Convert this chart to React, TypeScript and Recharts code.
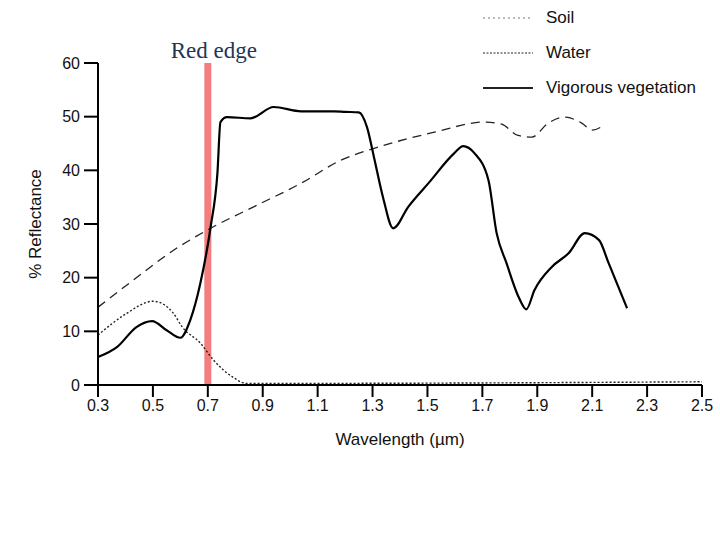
import React from 'react';
import { LineChart, Line, XAxis, YAxis, ReferenceLine, Legend } from 'recharts';

// axis ticks
const wlTicks = [0.3, 0.5, 0.7, 0.9, 1.1, 1.3, 1.5, 1.7, 1.9, 2.1, 2.3, 2.5];
const reflTicks = [0, 10, 20, 30, 40, 50, 60];

// soil (dashed)
const soilWl = [0.3, 0.43, 0.575, 0.71, 0.867, 1.04, 1.185, 1.306, 1.525, 1.708, 1.77, 1.83, 1.88, 1.94, 2.0, 2.062, 2.1, 2.143];
const soilRefl = [14.5, 19.6, 25.1, 29.2, 33.2, 37.6, 41.9, 44.1, 47.1, 49, 48.6, 46.5, 46.2, 48.8, 49.9, 48.8, 47.5, 48.4];

// water (dotted)
const waterWl = [0.3, 0.4, 0.5, 0.54, 0.574, 0.607, 0.673, 0.72, 0.79, 0.84, 1.0, 2.5];
const waterRefl = [9.3, 13.2, 15.6, 15.0, 13.4, 10.8, 7.8, 4.7, 1.5, 0.3, 0.3, 0.6];

// vigorous vegetation (solid)
const vegWl = [0.3, 0.37, 0.44, 0.497, 0.55, 0.6, 0.636, 0.673, 0.71, 0.735, 0.746, 0.77, 0.856, 0.94, 1.04, 1.16, 1.2, 1.25, 1.28, 1.305, 1.338, 1.375, 1.43, 1.507, 1.598, 1.63, 1.671, 1.722, 1.752, 1.788, 1.832, 1.86, 1.89, 1.953, 2.015, 2.073, 2.125, 2.16, 2.227];
const vegRefl = [5.2, 7.1, 10.8, 11.9, 10.2, 8.8, 12.1, 19, 29.4, 39.5, 49, 49.9, 49.7, 51.8, 51, 51, 50.9, 50.8, 48, 42.5, 35, 29.2, 33.2, 37.8, 43.2, 44.5, 43.2, 38.2, 28.3, 22.7, 16.4, 14.1, 17.7, 22, 24.6, 28.3, 27, 22.7, 14.3];

const redEdge = 0.7;

const seriesOrder = ['Soil', 'Water', 'Vigorous vegetation'];

const zip = (xs: number[], ys: number[]) => xs.map((x, i) => ({ wl: x, refl: ys[i] }));

const soilData = zip(soilWl, soilRefl);
const waterData = zip(waterWl, waterRefl);
const vegData = zip(vegWl, vegRefl);

const FONT = '"Liberation Sans", Arial, sans-serif';

const dashFor: Record<string, string | undefined> = {
  Soil: '2 3',
  Water: '2 1.5',
  'Vigorous vegetation': undefined,
};

const LegendBox = (props: any) => {
  const items = [...(props.payload || [])].sort(
    (a: any, b: any) => seriesOrder.indexOf(a.value) - seriesOrder.indexOf(b.value)
  );
  return (
    <div style={{ fontFamily: FONT, fontSize: 17, color: '#111' }}>
      {items.map((it: any) => (
        <div key={it.value} style={{ display: 'flex', alignItems: 'center', height: 35 }}>
          <svg width={50} height={6} style={{ marginRight: 13 }}>
            <line
              x1={0}
              y1={3}
              x2={50}
              y2={3}
              stroke={it.value === 'Soil' ? '#777' : '#222'}
              strokeWidth={it.value === 'Vigorous vegetation' ? 2 : 1.2}
              strokeDasharray={dashFor[it.value]}
            />
          </svg>
          <span>{it.value}</span>
        </div>
      ))}
    </div>
  );
};

const YLabel = (props: any) => {
  const vb = props.viewBox;
  const cx = vb.x + 9;
  const cy = vb.y + vb.height / 2;
  return (
    <text
      x={cx}
      y={cy}
      transform={`rotate(-90 ${cx} ${cy})`}
      textAnchor="middle"
      dominantBaseline="middle"
      fontFamily={FONT}
      fontSize={17}
      fill="#111"
    >
      % Reflectance
    </text>
  );
};

export default function App() {
  return (
    <div style={{ position: 'absolute', left: 0, top: 0, width: 720, height: 540, background: '#fff' }}>
      <LineChart width={720} height={540} margin={{ top: 63, right: 18, left: 28, bottom: 95 }}>
        <XAxis
          dataKey="wl"
          type="number"
          domain={[0.3, 2.5]}
          ticks={wlTicks}
          allowDuplicatedCategory={false}
          tickFormatter={(v: number) => v.toFixed(1)}
          stroke="#000"
          strokeWidth={2}
          tickSize={12}
          tickMargin={3}
          height={60}
          tick={{ fontFamily: FONT, fontSize: 16, fill: '#111' }}
          label={{ value: 'Wavelength (\u00b5m)', position: 'insideBottom', offset: 0, fontFamily: FONT, fontSize: 17, fill: '#111' }}
        />
        <YAxis
          dataKey="refl"
          type="number"
          domain={[0, 60]}
          ticks={reflTicks}
          stroke="#000"
          strokeWidth={2}
          tickSize={14}
          tickMargin={4}
          width={70}
          tick={{ fontFamily: FONT, fontSize: 16, fill: '#111' }}
          label={<YLabel />}
        />
        <ReferenceLine
          x={redEdge}
          stroke="#f47e7e"
          strokeWidth={7}
          label={{ value: 'Red edge', position: 'top', offset: 5, dx: 6, fill: '#1f3656', fontSize: 23, fontFamily: '"Liberation Serif", "Times New Roman", serif' }}
        />
        <Line
          data={soilData}
          dataKey="refl"
          name="Soil"
          type="monotone"
          stroke="#222"
          strokeWidth={1.3}
          strokeDasharray="9 6"
          dot={false}
          isAnimationActive={false}
        />
        <Line
          data={waterData}
          dataKey="refl"
          name="Water"
          type="monotone"
          stroke="#222"
          strokeWidth={1.4}
          strokeDasharray="2 2"
          dot={false}
          isAnimationActive={false}
        />
        <Line
          data={vegData}
          dataKey="refl"
          name="Vigorous vegetation"
          type="monotone"
          stroke="#000"
          strokeWidth={2.2}
          dot={false}
          isAnimationActive={false}
        />
        <Legend
          layout="vertical"
          verticalAlign="middle"
          align="center"
          content={<LegendBox />}
          wrapperStyle={{ position: 'absolute', top: 0, left: 483, width: 237, height: 110 }}
        />
      </LineChart>
    </div>
  );
}
